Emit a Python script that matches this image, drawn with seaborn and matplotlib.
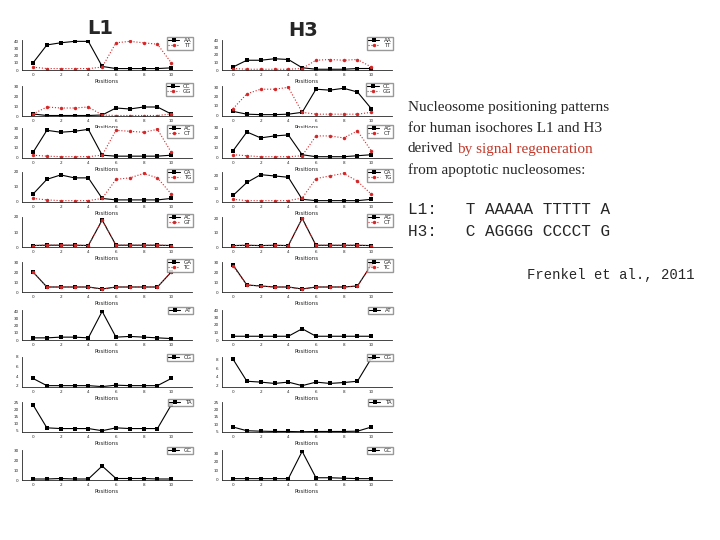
import matplotlib
matplotlib.use("Agg")
import matplotlib.pyplot as plt
import seaborn as sns
import pandas as pd

positions = list(range(11))

# (label, values) per panel, rows top to bottom
l1_rows = [
    [("AA", [10, 35, 38, 40, 40, 5, 2, 2, 2, 2, 3]), ("TT", [4, 2, 2, 2, 2, 4, 38, 40, 38, 36, 10])],
    [("CC", [2, 0.5, 0.5, 0.5, 0.5, 1, 8, 7, 9, 9, 2]), ("GG", [2, 9, 8, 8, 9, 1, 0.5, 0.5, 0.5, 0.5, 2])],
    [("AC", [5, 28, 26, 27, 29, 2, 1, 1, 1, 1, 2]), ("CT", [2, 1, 0.5, 0.5, 0.5, 2, 28, 27, 26, 29, 5])],
    [("CA", [5, 15, 18, 16, 16, 2, 1, 1, 1, 1, 2]), ("TG", [2, 1, 0.5, 0.5, 0.5, 2, 15, 16, 19, 16, 5])],
    [("AC", [1, 1.2, 1.2, 1.2, 1, 18, 1.2, 1.2, 1.2, 1.2, 1]), ("GT", [1, 1.2, 1.2, 1.2, 1, 18, 1.2, 1.2, 1.2, 1.2, 1])],
    [("GA", [20, 5, 5, 5, 5, 3, 5, 5, 5, 5, 20]), ("TC", [20, 5, 5, 5, 5, 3, 5, 5, 5, 5, 20])],
    [("AT", [3, 3, 4, 4, 3, 40, 4, 5, 4, 3, 2])],
    [("CG", [3.5, 2, 2, 2, 2, 1.8, 2.1, 2, 2, 2, 3.5])],
    [("TA", [23, 7, 6.5, 6.5, 6.5, 5, 7, 6.5, 6.5, 6.5, 23])],
    [("GC", [1, 1, 1.5, 1, 1, 14, 1.5, 1.5, 1.5, 1, 1])],
]
h3_rows = [
    [("AA", [4, 13, 13, 15, 14, 3, 1, 1, 1, 2, 2]), ("TT", [2, 1, 1, 1, 1, 2, 13, 14, 13, 14, 4])],
    [("CC", [4, 1, 0.5, 0.5, 1, 3, 28, 27, 29, 25, 7]), ("GG", [7, 23, 28, 28, 30, 3, 1, 1, 1, 1, 3])],
    [("AG", [7, 26, 20, 22, 23, 3, 1, 1, 1, 2, 3]), ("CT", [3, 2, 1, 1, 1, 2, 22, 22, 20, 27, 7])],
    [("CA", [5, 15, 21, 20, 19, 2, 1, 1, 1, 1, 2]), ("TG", [2, 1, 1, 1, 1, 3, 18, 20, 22, 16, 6])],
    [("AG", [1, 1.2, 1, 1.2, 1, 20, 1.2, 1.2, 1.2, 1.2, 1]), ("CT", [1, 1.2, 1, 1.2, 1, 20, 1.2, 1.2, 1.2, 1.2, 1])],
    [("GA", [27, 7, 6, 5, 5, 3, 5, 5, 5, 6, 27]), ("TC", [26, 7, 6, 5, 5, 3, 5, 5, 5, 6, 27])],
    [("AT", [5, 5, 5, 5, 5, 15, 5, 5, 5, 5, 5])],
    [("CG", [8, 3, 2.8, 2.5, 2.8, 2, 2.8, 2.5, 2.7, 3, 8.2])],
    [("TA", [8, 5.5, 5.2, 5, 5, 4.8, 5, 5, 5, 5.2, 8])],
    [("GC", [1, 1, 1, 1, 1, 32, 2, 2, 1.5, 1, 1])],
]
y_ticks = [
    [0, 10, 20, 30, 40], [0, 10, 20, 30], [0, 10, 20, 30], [0, 10, 20], [0, 10, 20],
    [0, 10, 20, 30], [0, 10, 20, 30, 40], [2, 4, 6, 8], [5, 10, 15, 20, 25], [0, 10, 20, 30],
]

sns.set_style("white")
fig = plt.figure(figsize=(7.2, 5.4), dpi=100)
W, H = 720, 540
row_tops = [40, 86, 128, 172, 217, 262, 310, 357, 402, 450]
panel_h = 30
col_left = [22, 222]
panel_w = 170

for col, rows in enumerate([l1_rows, h3_rows]):
    for r, series in enumerate(rows):
        ax = fig.add_axes([col_left[col] / W, 1 - (row_tops[r] + panel_h) / H, panel_w / W, panel_h / H])
        for i, (name, vals) in enumerate(series):
            df = pd.DataFrame({"Positions": positions, "v": vals})
            color = "black" if i == 0 else "#d62728"
            sns.lineplot(data=df, x="Positions", y="v", ax=ax, color=color, marker="s" if i == 0 else "o",
                         markersize=2.5, linewidth=0.8, linestyle="-" if i == 0 else ":",
                         markeredgewidth=0, label=name)
        ax.set_xlim(-0.8, 11.5)
        ax.set_xticks([0, 2, 4, 6, 8, 10])
        ax.set_yticks(y_ticks[r])
        ax.tick_params(labelsize=3, length=1.5, pad=1)
        ax.set_ylabel("")
        ax.set_xlabel("Positions", fontsize=4, labelpad=1)
        for s in ["top", "right"]:
            ax.spines[s].set_visible(False)
        for s in ["left", "bottom"]:
            ax.spines[s].set_linewidth(0.6)
        ax.legend(fontsize=4, loc="upper right", bbox_to_anchor=(1.02, 1.2), frameon=True,
                  fancybox=False, edgecolor="gray", handlelength=2, borderpad=0.2, labelspacing=0.1)

fig.text(100 / W, 1 - 28 / H, "L1", fontsize=14, fontweight="bold", ha="center", va="center")
fig.text(303 / W, 1 - 30 / H, "H3", fontsize=14, fontweight="bold", ha="center", va="center")

serif = "Liberation Serif"
lines = ["Nucleosome positioning patterns", "for human isochores L1 and H3", "derived", "from apoptotic nucleosomes:"]
ys = [108, 129, 149, 170]
txts = [fig.text(408 / W, 1 - y / H, t, fontsize=11, family=serif, va="center") for t, y in zip(lines, ys)]
renderer = fig.canvas.get_renderer()
x_end = txts[2].get_window_extent(renderer).x1
fig.text((x_end + 4) / W, 1 - 149 / H, "by signal regeneration", fontsize=11, family=serif,
         va="center", color="#c0392b")
fig.text(408 / W, 1 - 210 / H, "L1:   T AAAAA TTTTT A", fontsize=11.5, family="Liberation Mono", va="center")
fig.text(408 / W, 1 - 231 / H, "H3:   C AGGGG CCCCT G", fontsize=11.5, family="Liberation Mono", va="center")
fig.text(527 / W, 1 - 275 / H, "Frenkel et al., 2011", fontsize=10, family="Liberation Mono", va="center")

fig.savefig("out.png", dpi=100)
